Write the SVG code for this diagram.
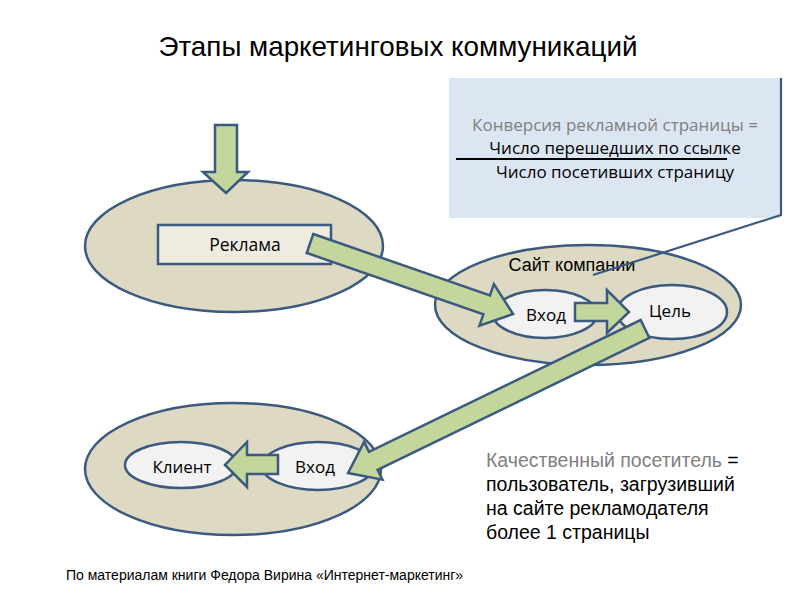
<svg xmlns="http://www.w3.org/2000/svg" width="794" height="595" viewBox="0 0 794 595">
<style>
.outer{fill:#ddd9c3;stroke:#3c5a80;stroke-width:2.5}
.inner{fill:#f2f2f2;stroke:#3c5a80;stroke-width:2.5}
.arrow{fill:#c3d69b;stroke:#3c5a80;stroke-width:2.5;stroke-linejoin:miter}
.cal{font-family:"Open Sans","Noto Sans",sans-serif;fill:#000}
.ar{font-family:"Liberation Sans",Arial,sans-serif;fill:#000}
</style>
<rect width="794" height="595" fill="#fff"/>
<text class="ar" x="398" y="56" font-size="27.8" text-anchor="middle">Этапы маркетинговых коммуникаций</text>

<g id="callout">
<rect x="449" y="78" width="332" height="140" fill="#dce6f2"/>
<text class="cal" x="615" y="131" font-size="17" text-anchor="middle" style="fill:#808080">Конверсия рекламной страницы =</text>
<text class="cal" x="615" y="154" font-size="17" text-anchor="middle">Число перешедших по ссылке</text>
<line x1="456" y1="159" x2="727" y2="159" stroke="#000" stroke-width="2.2"/>
<text class="cal" x="615" y="178" font-size="17" text-anchor="middle">Число посетивших страницу</text>
</g>

<g id="reklama-stage">
<ellipse class="outer" cx="234" cy="246" rx="149" ry="66"/>
<rect x="158" y="225" width="173" height="39" fill="#eeece1" stroke="#3c5a80" stroke-width="2.5"/>
<text class="cal" x="245" y="251" font-size="17.5" text-anchor="middle">Реклама</text>
</g>

<g id="site-stage">
<ellipse class="outer" cx="588" cy="305" rx="153" ry="60"/>
<text class="ar" x="572" y="271" font-size="18" text-anchor="middle">Сайт компании</text>
<ellipse id="site-entry" class="inner" cx="545" cy="314" rx="52" ry="24"/>
<ellipse id="site-goal" class="inner" cx="672" cy="312" rx="55" ry="27"/>
<text class="cal" x="546" y="321" font-size="17" text-anchor="middle">Вход</text>
<text class="cal" x="670" y="317" font-size="17" text-anchor="middle">Цель</text>
</g>

<g id="client-stage">
<ellipse class="outer" cx="233" cy="469" rx="148" ry="66"/>
<ellipse id="client" class="inner" cx="181" cy="465" rx="56" ry="23"/>
<ellipse id="client-entry" class="inner" cx="318" cy="466" rx="56" ry="24"/>
<text class="cal" x="182" y="473" font-size="17" text-anchor="middle">Клиент</text>
<text class="cal" x="315" y="473" font-size="17" text-anchor="middle">Вход</text>
</g>

<g id="connectors">
<polygon class="arrow" points="215,125 237,125 237,172 248,172 226,193 203,172 215,172"/>
<polygon class="arrow" transform="translate(310,243.5) rotate(19.15)" points="0,-10 187,-10 187,-22 215,0 187,22 187,10 0,10"/>
<polygon class="arrow" points="575,303 607,303 607,290 629,312 607,333 607,321 575,321"/>
<polygon class="arrow" transform="translate(645,329) rotate(154.13)" points="0,-10 302,-10 302,-21 330,0 302,21 302,10 0,10"/>
<polygon class="arrow" points="278,455 247,455 247,442 225,465 247,487 247,474 278,474"/>
<polyline points="781,78 781,215 593,275" fill="none" stroke="#3c5a80" stroke-width="2.2"/>
</g>

<g id="note">
<text class="ar" x="486" y="467" font-size="19.5"><tspan fill="#808080">Качественный посетитель</tspan> =</text>
<text class="ar" x="486" y="491" font-size="19.5">пользователь, загрузивший</text>
<text class="ar" x="486" y="515" font-size="19.5">на сайте рекламодателя</text>
<text class="ar" x="486" y="539" font-size="19.5">более 1 страницы</text>
</g>
<text class="ar" x="66" y="580" font-size="14">По материалам книги Федора Вирина «Интернет-маркетинг»</text>
</svg>
